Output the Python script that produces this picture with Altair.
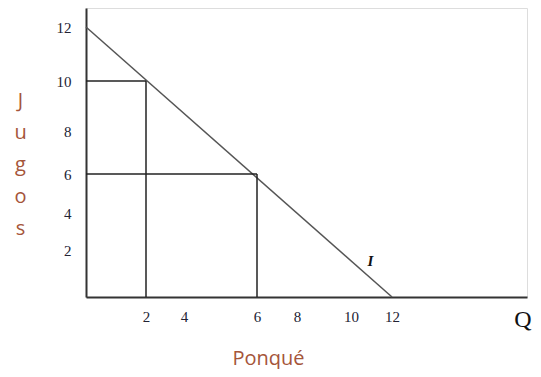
import altair as alt
import pandas as pd

# budget line I
line_x = [0, 12]
line_y = [12, 0]
# bundles (Ponqué, Jugos)
bundle_x = [2, 6]
bundle_y = [10, 6]
# tick labels
x_ticks = [2, 4, 6, 8, 10, 12]
y_ticks = [2, 4, 6, 8, 10, 12]
# annotations
label_i = ["I"]
label_i_x = [10.95]
label_i_y = [1.53]
label_q = ["Q"]
label_q_x = [18.6]
label_q_y = [-0.98]

BROWN = "#a5553a"

xs = alt.Scale(domain=[0, 2, 4, 6, 8, 10, 12, 18.8],
               range=[0, 60, 98, 171, 211, 265, 306, 441], nice=False, zero=False)
ys = alt.Scale(domain=[0, 2, 4, 6, 8, 10, 12, 12.7],
               range=[289, 242, 205, 166, 123, 73, 19, 0], nice=False, zero=False)

line_df = pd.DataFrame({"x": line_x, "y": line_y})
seg_rows = []
for bx, by in zip(bundle_x, bundle_y):
    seg_rows.append({"x": bx, "x2": bx, "y": 0, "y2": by})
    seg_rows.append({"x": 0, "x2": bx, "y": by, "y2": by})
seg_df = pd.DataFrame(seg_rows)
i_df = pd.DataFrame({"t": label_i, "x": label_i_x, "y": label_i_y})
q_df = pd.DataFrame({"t": label_q, "x": label_q_x, "y": label_q_y})

x_axis = alt.Axis(
    values=x_ticks, ticks=False, grid=False, domainColor="#333", domainWidth=2,
    labelFont="Liberation Serif", labelFontSize=15, labelColor="#222233",
    labelPadding=12, labelFlush=False,
    title="Ponqué", titleFont="Open Sans", titleFontSize=20, titleFontWeight="normal",
    titleColor=BROWN, titleX=182, titleY=61, titleAlign="center", titleBaseline="middle",
)
y_axis = alt.Axis(
    values=y_ticks, ticks=False, grid=False, domainColor="#333", domainWidth=2,
    labelFont="Liberation Serif", labelFontSize=15, labelColor="#222233",
    labelPadding=15, labelAlign="right", labelBaseline="middle", labelFlush=False,
    title=["J", "u", "g", "o", "s"], titleAngle=0, titleFont="Open Sans",
    titleFontSize=20, titleFontWeight="normal", titleColor=BROWN,
    titleX=-66, titleY=92, titleAlign="center", titleBaseline="middle",
    titleLineHeight=32,
)

budget = alt.Chart(line_df).mark_line(color="#555", strokeWidth=1.5, clip=False).encode(
    x=alt.X("x:Q", scale=xs, axis=x_axis),
    y=alt.Y("y:Q", scale=ys, axis=y_axis),
)

segs = alt.Chart(seg_df).mark_rule(color="#222", strokeWidth=1.5).encode(
    x="x:Q", x2="x2", y="y:Q", y2="y2"
)

ann_i = alt.Chart(i_df).mark_text(
    clip=False, baseline="middle", align="center", font="Liberation Serif",
    fontSize=15, fontStyle="italic", fontWeight="bold", color="#111",
).encode(x="x:Q", y="y:Q", text="t:N")

ann_q = alt.Chart(q_df).mark_text(
    clip=False, baseline="middle", align="center", font="Liberation Serif",
    fontSize=24, color="#111",
).encode(x="x:Q", y="y:Q", text="t:N")

chart = alt.layer(budget, segs, ann_i, ann_q).properties(
    width=441, height=289,
    autosize=alt.AutoSizeParams(type="none"),
    padding={"left": 78, "top": 0, "right": 6, "bottom": 72},
).configure_view(strokeWidth=0, strokeOpacity=0).configure(background="white")

chart.save("out.html", embed_options={"renderer": "svg", "actions": False})
